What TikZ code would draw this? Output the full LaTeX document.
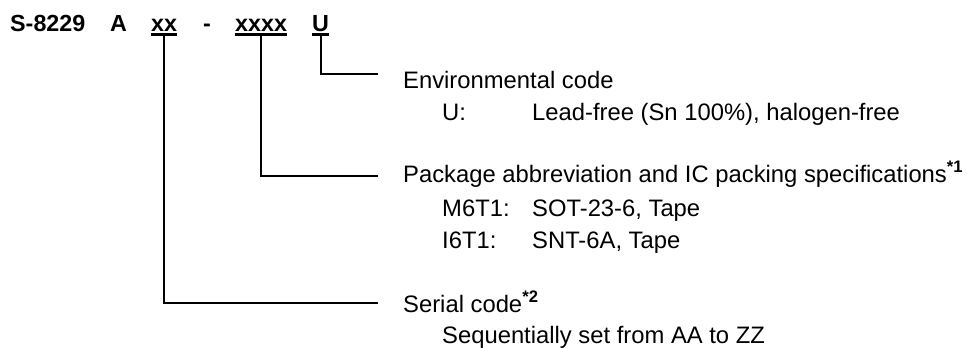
\documentclass[tikz,border=0pt]{standalone}
\usepackage{fontspec}
\setmainfont{Liberation Sans}
\begin{document}
\begin{tikzpicture}[x=1pt,y=-1pt,
  ttl/.style={anchor=base west,inner sep=0pt,font=\fontsize{23.3}{28}\selectfont\bfseries},
  lbl/.style={anchor=base west,inner sep=0pt,font=\fontsize{23.8}{30}\selectfont},
  ul/.style={line width=2.5pt},
  conn/.style={line width=1.8pt}]
\useasboundingbox (0,0) rectangle (967,348);
% title
\node[ttl] (s8229) at (10,31.5) {S-8229};
\node[ttl] (a) at (110,31.5) {A};
\node[ttl] (xx) at (151,31.5) {xx};
\node[ttl] (dash) at (203,31.5) {-};
\node[ttl] (xxxx) at (235,31.5) {xxxx};
\node[ttl] (u) at (312,31.5) {U};
\draw[ul] ([yshift=-3pt]xx.base west) -- ([yshift=-3pt]xx.base east);
\draw[ul] ([yshift=-3pt]xxxx.base west) -- ([yshift=-3pt]xxxx.base east);
\draw[ul] ([yshift=-3pt]u.base west) -- ([yshift=-3pt]u.base east);
% labels
\node[lbl] (env) at (403,88) {Environmental code};
\node[lbl] (envu) at (442,120) {U:};
\node[lbl] (envud) at (532,120) {Lead-free (Sn 100\%), halogen-free};
\node[lbl] (pkg) at (403,182) {Package abbreviation and IC packing specifications\textsuperscript{\bfseries *1}};
\node[lbl] (m6) at (442,216) {M6T1:};
\node[lbl] (m6d) at (532,216) {SOT-23-6, Tape};
\node[lbl] (i6) at (442,248) {I6T1:};
\node[lbl] (i6d) at (532,248) {SNT-6A, Tape};
\node[lbl] (ser) at (403,312) {Serial code\textsuperscript{\bfseries *2}};
\node[lbl] (seq) at (442,343) {Sequentially set from AA to ZZ};
% connectors
\coordinate (e1) at (378,74.3);
\coordinate (e2) at (378,176);
\coordinate (e3) at (378,303);
\draw[conn] ([yshift=-4.2pt]u.base) |- (e1);
\draw[conn] ([yshift=-4.2pt]xxxx.base) |- (e2);
\draw[conn] ([yshift=-4.2pt]xx.base) |- (e3);
\end{tikzpicture}
\end{document}
